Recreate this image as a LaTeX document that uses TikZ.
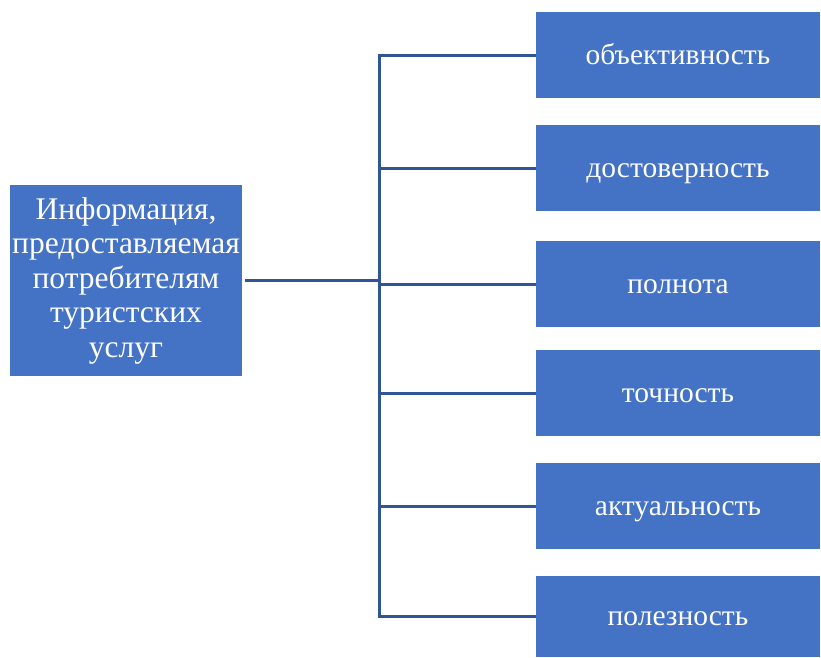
\documentclass[tikz,border=0pt]{standalone}
\usepackage{fontspec}
\setmainfont{Liberation Serif}
\usetikzlibrary{calc}
\definecolor{boxblue}{HTML}{4472C4}
\definecolor{lineblue}{HTML}{2F5597}
\tikzset{
    infobox/.style={fill=boxblue, text=white, inner sep=0pt, align=center},
    propbox/.style={infobox, minimum width=284pt, minimum height=86pt,
        text height=22pt, text depth=4pt, font=\fontsize{29.5}{32}\selectfont},
    link/.style={draw=lineblue, line width=3pt}
}

\begin{document}
\begin{tikzpicture}[x=1pt, y=-1pt]

        \useasboundingbox (0,0) rectangle (821,657);

        \node (info) [infobox, minimum width=232pt, minimum height=191pt,
            font=\fontsize{31.5}{34.5}\selectfont] at (126,280.5)
            {Информация,\\предоставляемая\\потребителям\\туристских\\услуг};

        \node (obj)  [propbox] at (678,55)  {объективность};
        \node (dost) [propbox] at (678,168) {достоверность};
        \node (poln) [propbox] at (678,284) {полнота};
        \node (toch) [propbox] at (678,393) {точность};
        \node (akt)  [propbox] at (678,506) {актуальность};
        \node (pol)  [propbox, minimum height=81pt] at (678,616.5) {полезность};

        \coordinate (trunk) at (379,280.5);

        \draw[link] ($(info.east)+(3,0)$) -- (trunk);
        \draw[link] (obj.west) -- (trunk |- obj) -- (trunk |- pol) -- (pol.west);

        \draw[link] (trunk |- dost) -- (dost.west);
        \draw[link] (trunk |- poln) -- (poln.west);
        \draw[link] (trunk |- toch) -- (toch.west);
        \draw[link] (trunk |- akt) -- (akt.west);

    \end{tikzpicture}
\end{document}
